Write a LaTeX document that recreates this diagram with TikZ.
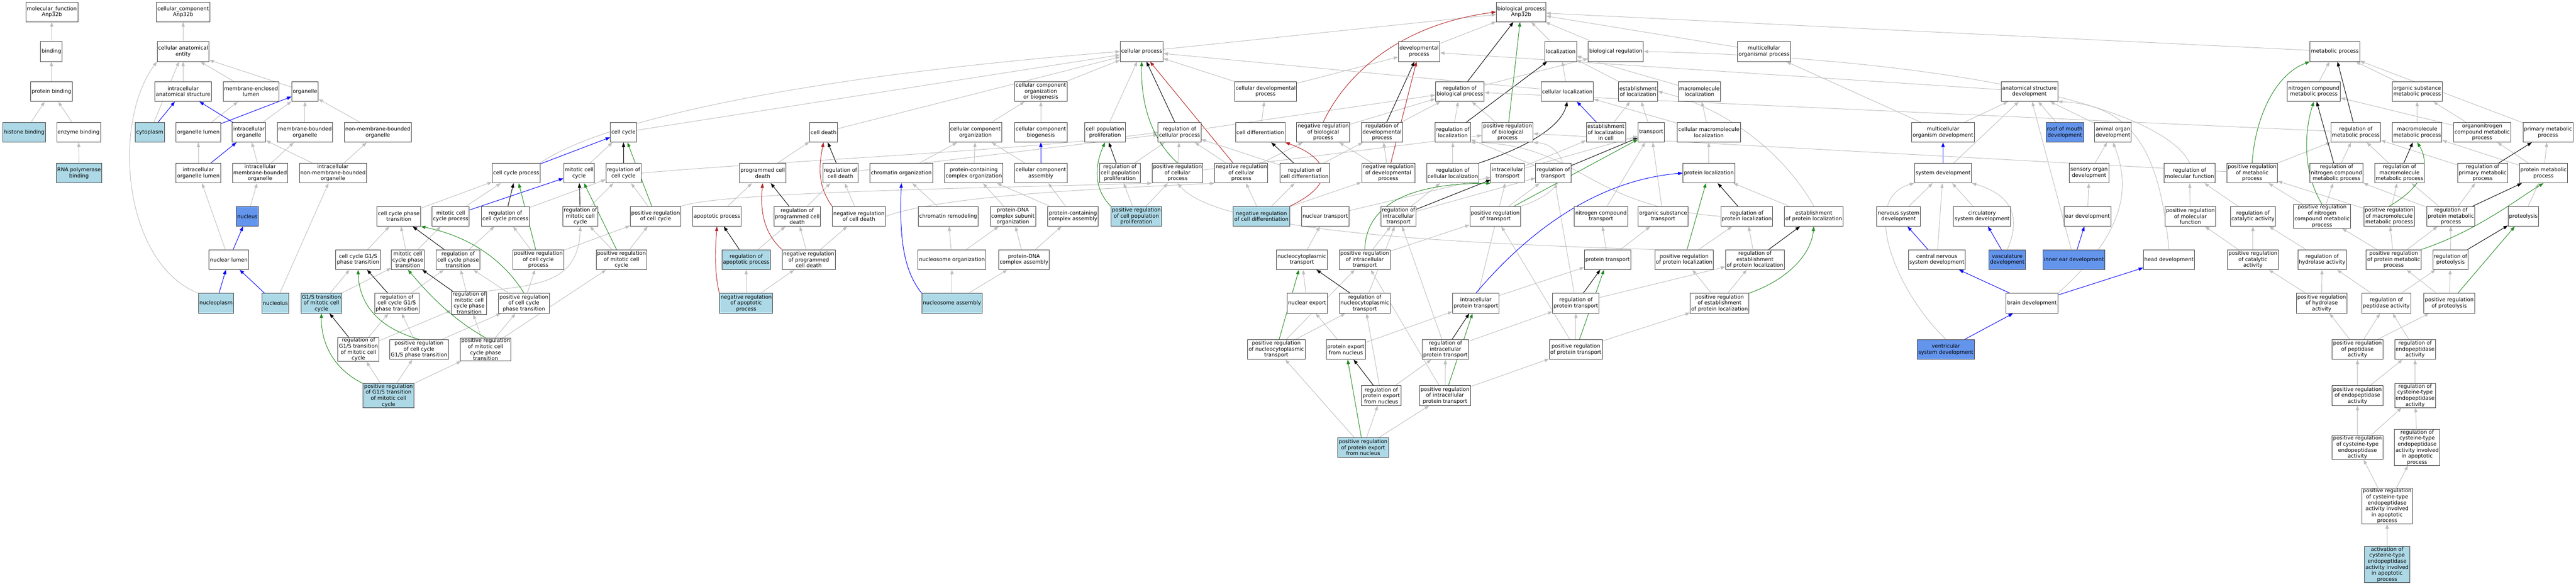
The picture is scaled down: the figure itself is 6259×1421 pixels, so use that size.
\documentclass[tikz,border=0pt]{standalone}
\usepackage{fontspec}
\setmainfont{DejaVu Sans}
\usetikzlibrary{arrows.meta,backgrounds}
\definecolor{edgegray}{RGB}{190,190,190}
\definecolor{lblue}{RGB}{173,216,230}
\definecolor{cblue}{RGB}{100,149,237}
\definecolor{posgreen}{RGB}{34,139,34}
\definecolor{negred}{RGB}{178,34,34}
\begin{document}
\begin{tikzpicture}[x=1pt,y=1pt,
  term/.style={draw=black!75, line width=1.2pt, fill=white, inner xsep=2.5pt, inner ysep=1pt, minimum height=48pt, align=center, font=\fontsize{12.7}{14.5}\selectfont},
  annot/.style={term, fill=lblue},
  focus/.style={term, fill=cblue},
  isa/.style={draw=edgegray, line width=1.2pt, -{Triangle[length=11pt,width=8pt]}},
  partof/.style={isa, draw=blue},
  regs/.style={isa, draw=black},
  posreg/.style={isa, draw=posgreen},
  negreg/.style={isa, draw=negred}]
\useasboundingbox (0,0) rectangle (6259,-1421);

% row 0 and 1
\node[term] (mf) at (126,-29) {molecular\_function\\Anp32b};
\node[term] (ccomp) at (445,-29) {cellular\_component\\Anp32b};
\node[term] (bp) at (3696,-29) {biological\_process\\Anp32b};
\node[term] (bind) at (125,-125) {binding};
\node[term] (cae) at (445,-125) {cellular anatomical\\entity};
\node[term] (cellproc) at (2774,-125) {cellular process};
\node[term] (devproc) at (3448,-125) {developmental\\process};
\node[term] (loc) at (3792,-125) {localization};
\node[term] (bioreg) at (3926,-125) {biological regulation};
\node[term] (mop) at (4286,-125) {multicellular\\organismal process};
\node[term] (metab) at (5673,-125) {metabolic process};

% row 2
\node[term] (pbind) at (125,-222) {protein binding};
\node[term] (ias) at (445,-222) {intracellular\\anatomical structure};
\node[term] (mel) at (610,-222) {membrane-enclosed\\lumen};
\node[term] (org) at (741,-222) {organelle};
\node[term] (ccob) at (2529,-222) {cellular component\\organization\\or biogenesis};
\node[term] (celldevp) at (3075,-222) {cellular developmental\\process};
\node[term] (regbp) at (3547,-222) {regulation of\\biological process};
\node[term] (cellloc) at (3808,-222) {cellular localization};
\node[term] (estloc) at (3980,-222) {establishment\\of localization};
\node[term] (mmloc) at (4129,-222) {macromolecule\\localization};
\node[term] (asd) at (4931,-222) {anatomical structure\\development};
\node[term] (ncmp) at (5622,-222) {nitrogen compound\\metabolic process};
\node[term] (osmp) at (5873,-222) {organic substance\\metabolic process};

% row 3
\node[annot] (hist) at (59,-321) {histone binding};
\node[term] (enz) at (191,-321) {enzyme binding};
\node[annot] (cyto) at (364,-321) {cytoplasm};
\node[term] (orglum) at (482,-321) {organelle lumen};
\node[term] (icorg) at (605,-321) {intracellular\\organelle};
\node[term] (mbo) at (741,-321) {membrane-bounded\\organelle};
\node[term] (nmbo) at (918,-321) {non-membrane-bounded\\organelle};
\node[term] (ccyc) at (1515,-321) {cell cycle};
\node[term] (cdeath) at (2001,-321) {cell death};
\node[term] (ccorg) at (2370,-321) {cellular component\\organization};
\node[term] (ccbio) at (2529,-321) {cellular component\\biogenesis};
\node[term] (cpp) at (2685,-321) {cell population\\proliferation};
\node[term] (regcp) at (2866,-321) {regulation of\\cellular process};
\node[term] (cdiff) at (3062,-321) {cell differentiation};
\node[term] (nrbp) at (3215,-321) {negative regulation\\of biological\\process};
\node[term] (regdev) at (3358,-321) {regulation of\\developmental\\process};
\node[term] (regloc) at (3530,-321) {regulation of\\localization};
\node[term] (prbp) at (3663,-321) {positive regulation\\of biological\\process};
\node[term] (estlocc) at (3902,-321) {establishment\\of localization\\in cell};
\node[term] (transp) at (4012,-321) {transport};
\node[term] (cmmloc) at (4152,-321) {cellular macromolecule\\localization};
\node[term] (mod) at (4721,-321) {multicellular\\organism development};
\node[focus] (roof) at (5017,-321) {roof of mouth\\development};
\node[term] (aod) at (5134,-321) {animal organ\\development};
\node[term] (regmp) at (5724,-321) {regulation of\\metabolic process};
\node[term] (mmmp) at (5873,-321) {macromolecule\\metabolic process};
\node[term] (onmp) at (6031,-321) {organonitrogen\\compound metabolic\\process};
\node[term] (pmp) at (6191,-321) {primary metabolic\\process};

% row 4
\node[annot] (rnap) at (192,-420) {RNA polymerase\\binding};
\node[term] (icol) at (482,-420) {intracellular\\organelle lumen};
\node[term] (imbo) at (632,-420) {intracellular\\membrane-bounded\\organelle};
\node[term] (inmbo) at (809,-420) {intracellular\\non-membrane-bounded\\organelle};
\node[term] (ccp) at (1254,-420) {cell cycle process};
\node[term] (mcc) at (1407,-420) {mitotic cell\\cycle};
\node[term] (regcc) at (1515,-420) {regulation of\\cell cycle};
\node[term] (pcd) at (1853,-420) {programmed cell\\death};
\node[term] (regcd) at (2042,-420) {regulation of\\cell death};
\node[term] (chrorg) at (2190,-420) {chromatin organization};
\node[term] (pcco) at (2366,-420) {protein-containing\\complex organization};
\node[term] (cca) at (2529,-420) {cellular component\\assembly};
\node[term] (regcpp) at (2721,-420) {regulation of\\cell population\\proliferation};
\node[term] (prcp) at (2861,-420) {positive regulation\\of cellular\\process};
\node[term] (nrcp) at (3016,-420) {negative regulation\\of cellular\\process};
\node[term] (regcdiff) at (3170,-420) {regulation of\\cell differentiation};
\node[term] (nrdev) at (3373,-420) {negative regulation\\of developmental\\process};
\node[term] (regcloc) at (3530,-420) {regulation of\\cellular localization};
\node[term] (ictr) at (3663,-420) {intracellular\\transport};
\node[term] (regtr) at (3774,-420) {regulation of\\transport};
\node[term] (ploc) at (4152,-420) {protein localization};
\node[term] (sysdev) at (4721,-420) {system development};
\node[term] (sod) at (5076,-420) {sensory organ\\development};
\node[term] (regmf) at (5320,-420) {regulation of\\molecular function};
\node[term] (prmp) at (5472,-420) {positive regulation\\of metabolic\\process};
\node[term] (regncmp) at (5677,-420) {regulation of\\nitrogen compound\\metabolic process};
\node[term] (regmmmp) at (5830,-420) {regulation of\\macromolecule\\metabolic process};
\node[term] (regpmp) at (6032,-420) {regulation of\\primary metabolic\\process};
\node[term] (protmp) at (6180,-420) {protein metabolic\\process};

% row 5
\node[focus] (nucleus) at (601,-525) {nucleus};
\node[term] (ccpt) at (969,-525) {cell cycle phase\\transition};
\node[term] (mccp) at (1095,-525) {mitotic cell\\cycle process};
\node[term] (regccp) at (1228,-525) {regulation of\\cell cycle process};
\node[term] (regmcc) at (1410,-525) {regulation of\\mitotic cell\\cycle};
\node[term] (prcc) at (1593,-525) {positive regulation\\of cell cycle};
\node[term] (apop) at (1742,-525) {apoptotic process};
\node[term] (regpcd) at (1937,-525) {regulation of\\programmed cell\\death};
\node[term] (nrcd) at (2087,-525) {negative regulation\\of cell death};
\node[term] (chrrem) at (2304,-525) {chromatin remodeling};
\node[term] (pdnaorg) at (2461,-525) {protein-DNA\\complex subunit\\organization};
\node[term] (pcca) at (2607,-525) {protein-containing\\complex assembly};
\node[annot] (prcpp) at (2761,-525) {positive regulation\\of cell population\\proliferation};
\node[annot] (nrcdiff) at (3065,-525) {negative regulation\\of cell differentiation};
\node[term] (nuctr) at (3220,-525) {nuclear transport};
\node[term] (regictr) at (3398,-525) {regulation of\\intracellular\\transport};
\node[term] (prtr) at (3633,-525) {positive regulation\\of transport};
\node[term] (nctr) at (3890,-525) {nitrogen compound\\transport};
\node[term] (ostr) at (4041,-525) {organic substance\\transport};
\node[term] (regploc) at (4244,-525) {regulation of\\protein localization};
\node[term] (estploc) at (4407,-525) {establishment\\of protein localization};
\node[term] (nsd) at (4613,-525) {nervous system\\development};
\node[term] (csd) at (4816,-525) {circulatory\\system development};
\node[term] (eard) at (5072,-525) {ear development};
\node[term] (prmf) at (5322,-525) {positive regulation\\of molecular\\function};
\node[term] (regcat) at (5474,-525) {regulation of\\catalytic activity};
\node[term] (prncmp) at (5642,-525) {positive regulation\\of nitrogen\\compound metabolic\\process};
\node[term] (prmmmp) at (5805,-525) {positive regulation\\of macromolecule\\metabolic process};
\node[term] (regprotmp) at (5955,-525) {regulation of\\protein metabolic\\process};
\node[term] (proteol) at (6131,-525) {proteolysis};

% row 6
\node[term] (nuclum) at (556,-630) {nuclear lumen};
\node[term] (ccg1s) at (870,-630) {cell cycle G1/S\\phase transition};
\node[term] (mccpt) at (991,-630) {mitotic cell\\cycle phase\\transition};
\node[term] (regccpt) at (1113,-630) {regulation of\\cell cycle phase\\transition};
\node[term] (prccp) at (1308,-630) {positive regulation\\of cell cycle\\process};
\node[term] (prmcc) at (1510,-630) {positive regulation\\of mitotic cell\\cycle};
\node[annot] (regapop) at (1813,-630) {regulation of\\apoptotic process};
\node[term] (nrpcd) at (1965,-630) {negative regulation\\of programmed\\cell death};
\node[term] (nucorg) at (2313,-630) {nucleosome organization};
\node[term] (pdnaasm) at (2488,-630) {protein-DNA\\complex assembly};
\node[term] (ncytr) at (3163,-630) {nucleocytoplasmic\\transport};
\node[term] (prictr) at (3316,-630) {positive regulation\\of intracellular\\transport};
\node[term] (prottr) at (3906,-630) {protein transport};
\node[term] (prploc) at (4092,-630) {positive regulation\\of protein localization};
\node[term] (regestploc) at (4264,-630) {regulation of\\establishment\\of protein localization};
\node[term] (cnsd) at (4706,-630) {central nervous\\system development};
\node[focus] (vasc) at (4877,-630) {vasculature\\development};
\node[focus] (ied) at (5039,-630) {inner ear development};
\node[term] (headd) at (5270,-630) {head development};
\node[term] (prcat) at (5474,-630) {positive regulation\\of catalytic\\activity};
\node[term] (reghyd) at (5642,-630) {regulation of\\hydrolase activity};
\node[term] (prprotmp) at (5816,-630) {positive regulation\\of protein metabolic\\process};
\node[term] (regproteol) at (5954,-630) {regulation of\\proteolysis};

% row 7
\node[annot] (nucpl) at (525,-736) {nucleoplasm};
\node[annot] (nucl) at (669,-736) {nucleolus};
\node[annot] (g1s) at (781,-736) {G1/S transition\\of mitotic cell\\cycle};
\node[term] (regccg1s) at (964,-736) {regulation of\\cell cycle G1/S\\phase transition};
\node[term] (regmccpt) at (1140,-735) {regulation of\\mitotic cell\\cycle phase\\transition};
\node[term] (prccpt) at (1273,-736) {positive regulation\\of cell cycle\\phase transition};
\node[annot] (nrapop) at (1813,-736) {negative regulation\\of apoptotic\\process};
\node[annot] (nucasm) at (2313,-736) {nucleosome assembly};
\node[term] (nucexp) at (3176,-736) {nuclear export};
\node[term] (regncytr) at (3316,-736) {regulation of\\nucleocytoplasmic\\transport};
\node[term] (icptr) at (3586,-736) {intracellular\\protein transport};
\node[term] (regprottr) at (3829,-736) {regulation of\\protein transport};
\node[term] (prestploc) at (4178,-736) {positive regulation\\of establishment\\of protein localization};
\node[term] (braind) at (4937,-736) {brain development};
\node[term] (prhyd) at (5641,-736) {positive regulation\\of hydrolase\\activity};
\node[term] (regpep) at (5798,-736) {regulation of\\peptidase activity};
\node[term] (prproteol) at (5951,-736) {positive regulation\\of proteolysis};

% rows 8 to 12
\node[term] (regg1s) at (871,-848) {regulation of\\G1/S transition\\of mitotic cell\\cycle};
\node[term] (prccg1s) at (1018,-848) {positive regulation\\of cell cycle\\G1/S phase transition};
\node[term] (prmccpt) at (1180,-848) {positive regulation\\of mitotic cell\\cycle phase\\transition};
\node[term] (prncytr) at (3101,-848) {positive regulation\\of nucleocytoplasmic\\transport};
\node[term] (pexp) at (3270,-848) {protein export\\from nucleus};
\node[term] (regicptr) at (3512,-848) {regulation of\\intracellular\\protein transport};
\node[term] (prprottr) at (3829,-848) {positive regulation\\of protein transport};
\node[focus] (ventd) at (4728,-848) {ventricular\\system development};
\node[term] (prpep) at (5728,-848) {positive regulation\\of peptidase\\activity};
\node[term] (regendo) at (5868,-848) {regulation of\\endopeptidase\\activity};
\node[annot] (prg1s) at (944,-960) {positive regulation\\of G1/S transition\\of mitotic cell\\cycle};
\node[term] (regpexp) at (3356,-960) {regulation of\\protein export\\from nucleus};
\node[term] (pricptr) at (3511,-960) {positive regulation\\of intracellular\\protein transport};
\node[term] (prendo) at (5728,-960) {positive regulation\\of endopeptidase\\activity};
\node[term] (regcys) at (5868,-960) {regulation of\\cysteine-type\\endopeptidase\\activity};
\node[annot] (prpexp) at (3312,-1086) {positive regulation\\of protein export\\from nucleus};
\node[term] (prcys) at (5728,-1086) {positive regulation\\of cysteine-type\\endopeptidase\\activity};
\node[term] (regcysap) at (5873,-1086) {regulation of\\cysteine-type\\endopeptidase\\activity involved\\in apoptotic\\process};
\node[term] (prcysap) at (5800,-1228) {positive regulation\\of cysteine-type\\endopeptidase\\activity involved\\in apoptotic\\process};
\node[annot] (actcys) at (5800,-1370) {activation of\\cysteine-type\\endopeptidase\\activity involved\\in apoptotic\\process};

\begin{pgfonlayer}{background}
% molecular function and cellular component
\draw[isa] (bind) -- (mf);
\draw[isa] (pbind) -- (bind);
\draw[isa] (hist) -- (pbind);
\draw[isa] (enz) -- (pbind);
\draw[isa] (rnap) -- (enz);
\draw[isa] (cae) -- (ccomp);
\draw[isa] (ias) -- (cae);
\draw[isa] (mel) -- (cae);
\draw[isa] (org) -- (cae);
\draw[isa] (cyto) -- (cae);
\draw[isa] (nucpl.north west) .. controls (300,-640) and (270,-300) .. (cae.south west);
\draw[isa] (orglum) -- (mel);
\draw[isa] (icorg) -- (org);
\draw[isa] (mbo) -- (org);
\draw[isa] (nmbo) -- (org);
\draw[isa] (icol) -- (orglum);
\draw[isa] (imbo) -- (icorg);
\draw[isa] (imbo) -- (mbo);
\draw[isa] (inmbo) -- (icorg);
\draw[isa] (inmbo) -- (nmbo);
\draw[isa] (nucleus) -- (imbo);
\draw[isa] (nuclum) -- (icol);
\draw[isa] (nucl) -- (inmbo);
\draw[partof] (cyto) -- (ias);
\draw[partof] (orglum) -- (org);
\draw[partof] (icorg) -- (ias);
\draw[partof] (icol) -- (icorg);
\draw[partof] (nuclum) -- (nucleus);
\draw[partof] (nucpl) -- (nuclum);
\draw[partof] (nucl) -- (nuclum);
% cell cycle
\draw[isa] (ccpt) -- (ccp);
\draw[isa] (ccg1s) -- (ccpt);
\draw[isa] (mccpt) -- (ccpt);
\draw[isa] (mccpt) -- (mccp);
\draw[isa] (g1s) -- (ccg1s);
\draw[isa] (g1s) -- (mccpt);
\draw[isa] (regccg1s) -- (regccpt);
\draw[isa] (regg1s) -- (regccg1s);
\draw[isa] (regg1s) -- (regmccpt);
\draw[isa] (prccg1s) -- (regccg1s);
\draw[isa] (prccg1s) -- (prccpt);
\draw[isa] (prg1s) -- (regg1s);
\draw[isa] (prg1s) -- (prccg1s);
\draw[isa] (prg1s) -- (prmccpt);
\draw[isa] (regmccpt) -- (regccpt);
\draw[isa] (regmccpt.north east) .. controls (1300,-690) and (1405,-690) .. (regmcc.south);
\draw[isa] (prccpt) -- (regccpt);
\draw[isa] (prccpt) -- (prccp);
\draw[isa] (prmccpt) -- (regmccpt);
\draw[isa] (prmccpt) -- (prccpt);
\draw[isa] (prmccpt) -- (prmcc);
\draw[isa] (ccyc) -- (cellproc);
\draw[isa] (ccp.north east) .. controls (1450,-300) and (1900,-190) .. (cellproc.west);
\draw[isa] (mcc) -- (ccyc);
\draw[isa] (mccp) -- (ccp);
\draw[isa] (regcc.east) .. controls (1900,-390) and (2500,-365) .. (regcp.west);
\draw[isa] (prcc) -- (regcc);
\draw[isa] (prcc.north east) .. controls (1750,-465) and (2450,-455) .. (prcp.south west);
\draw[isa] (regccp) -- (regcc);
\draw[isa] (prccp) -- (regccp);
\draw[isa] (prccp) -- (prcc);
\draw[isa] (regmcc) -- (regcc);
\draw[isa] (prmcc) -- (regmcc);
\draw[isa] (prmcc) -- (prcc);
\draw[isa] (regccpt) -- (regccp);
\draw[partof] (ccp) -- (ccyc);
\draw[partof] (mccp) -- (mcc);
\draw[regs] (regcc) -- (ccyc);
\draw[regs] (regccp) -- (ccp);
\draw[regs] (regmcc) -- (mcc);
\draw[regs] (regccpt) -- (ccpt);
\draw[regs] (regccg1s) -- (ccg1s);
\draw[regs] (regg1s) -- (g1s);
\draw[regs] (regmccpt) -- (mccpt);
\draw[posreg] (prcc) -- (ccyc);
\draw[posreg] (prccp) -- (ccp);
\draw[posreg] (prmcc) -- (mcc);
\draw[posreg] (prccpt.north) .. controls (1230,-640) and (1150,-575) .. (ccpt.south east);
\draw[posreg] (prccg1s.north) .. controls (900,-790) and (872,-720) .. (ccg1s.south);
\draw[posreg] (prg1s.north west) .. controls (800,-890) and (780,-820) .. (g1s.south);
\draw[posreg] (prmccpt.north) .. controls (1090,-770) and (1030,-700) .. (mccpt.south);
% cell death
\draw[isa] (cdeath) -- (cellproc);
\draw[isa] (pcd) -- (cdeath);
\draw[isa] (regcd) -- (regcp);
\draw[isa] (nrcd) -- (regcd);
\draw[isa] (nrcd.east) .. controls (2300,-470) and (2750,-455) .. (nrcp.south west);
\draw[isa] (apop) -- (pcd);
\draw[isa] (regpcd) -- (regcd);
\draw[isa] (nrpcd) -- (regpcd);
\draw[isa] (nrpcd) -- (nrcd);
\draw[isa] (regapop) -- (regpcd);
\draw[isa] (nrapop) -- (regapop);
\draw[isa] (nrapop) -- (nrpcd);
\draw[regs] (regcd) -- (cdeath);
\draw[regs] (regpcd) -- (pcd);
\draw[regs] (regapop) -- (apop);
\draw[negreg] (nrcd.north west) .. controls (1985,-450) and (1990,-400) .. (cdeath.south);
\draw[negreg] (nrpcd.north west) .. controls (1850,-560) and (1848,-500) .. (pcd.south);
\draw[negreg] (nrapop.north west) .. controls (1735,-660) and (1738,-600) .. (apop.south);
% cellular component organization
\draw[isa] (ccob) -- (cellproc);
\draw[isa] (ccorg) -- (ccob);
\draw[isa] (ccbio) -- (ccob);
\draw[isa] (chrorg) -- (ccorg);
\draw[isa] (pcco) -- (ccorg);
\draw[isa] (cca) -- (ccorg);
\draw[isa] (chrrem) -- (chrorg);
\draw[isa] (pdnaorg) -- (pcco);
\draw[isa] (pcca) -- (pcco);
\draw[isa] (pcca) -- (cca);
\draw[isa] (nucorg) -- (chrrem);
\draw[isa] (nucorg) -- (pdnaorg);
\draw[isa] (pdnaasm) -- (pdnaorg);
\draw[isa] (pdnaasm) -- (pcca);
\draw[isa] (nucasm) -- (nucorg);
\draw[isa] (nucasm) -- (pdnaasm);
\draw[partof] (cca) -- (ccbio);
\draw[partof] (nucasm.north west) .. controls (2190,-650) and (2186,-560) .. (chrorg.south);
% cell population proliferation
\draw[isa] (cpp) -- (cellproc);
\draw[isa] (regcpp) -- (regcp);
\draw[isa] (prcp) -- (regcp);
\draw[isa] (nrcp) -- (regcp);
\draw[isa] (prcpp) -- (regcpp);
\draw[isa] (prcpp) -- (prcp);
\draw[regs] (regcpp) -- (cpp);
\draw[regs] (regcp) -- (cellproc);
\draw[posreg] (prcpp.north west) .. controls (2650,-450) and (2665,-390) .. (cpp.south);
\draw[posreg] (prcp.north) .. controls (2790,-330) and (2772,-240) .. (cellproc.south);
\draw[negreg] (nrcp) -- (cellproc);
% development and regulation
\draw[isa] (cellproc) -- (bp);
\draw[isa] (celldevp) -- (cellproc);
\draw[isa] (celldevp) -- (devproc);
\draw[isa] (cdiff) -- (celldevp);
\draw[isa] (regcdiff) -- (regcp);
\draw[isa] (regcdiff) -- (regdev);
\draw[isa] (nrcdiff) -- (nrcp);
\draw[isa] (nrcdiff) -- (regcdiff);
\draw[isa] (nrcdiff) -- (nrdev);
\draw[isa] (regcp) -- (regbp);
\draw[isa] (prcp) -- (prbp);
\draw[isa] (nrcp) -- (nrbp);
\draw[isa] (nrdev) -- (nrbp);
\draw[isa] (nrdev) -- (regdev);
\draw[isa] (regdev) -- (regbp);
\draw[isa] (nrbp) -- (regbp);
\draw[isa] (prbp) -- (regbp);
\draw[isa] (regloc) -- (regbp);
\draw[isa] (regbp) -- (bioreg);
\draw[isa] (devproc) -- (bp);
\draw[isa] (loc) -- (bp);
\draw[isa] (bioreg) -- (bp);
\draw[isa] (mop) -- (bp);
\draw[isa] (metab) -- (bp);
\draw[isa] (asd) -- (devproc);
\draw[isa] (mod) -- (mop);
\draw[isa] (mod) -- (asd);
\draw[isa] (sysdev) -- (asd);
\draw[isa] (roof) -- (asd);
\draw[isa] (aod) -- (asd);
\draw[isa] (headd.north) .. controls (5250,-400) and (5200,-255) .. (asd.south east);
\draw[isa] (ied) -- (asd);
\draw[isa] (sod) -- (aod);
\draw[isa] (braind.north east) .. controls (5170,-560) and (5175,-450) .. (aod.south);
\draw[isa] (eard) -- (sod);
\draw[isa] (nsd) -- (sysdev);
\draw[isa] (csd) -- (sysdev);
\draw[isa] (cnsd) -- (sysdev);
\draw[isa] (vasc.north) .. controls (4915,-520) and (4880,-470) .. (sysdev.south east);
\draw[isa] (ventd.north) .. controls (4600,-700) and (4520,-480) .. (sysdev.south west);
\draw[partof] (sysdev) -- (mod);
\draw[partof] (ied) -- (eard);
\draw[partof] (cnsd) -- (nsd);
\draw[partof] (vasc) -- (csd);
\draw[partof] (braind) -- (cnsd);
\draw[partof] (ventd) -- (braind);
\draw[partof] (braind) -- (headd);
\draw[regs] (regbp) -- (bp);
\draw[regs] (regdev) -- (devproc);
\draw[regs] (regcdiff) -- (cdiff);
\draw[regs] (regloc) -- (loc);
\draw[posreg] (prbp) -- (bp);
\draw[negreg] (nrbp.north) .. controls (3270,-180) and (3400,-60) .. (bp.west);
\draw[negreg] (nrdev) -- (devproc);
\draw[negreg] (nrcdiff.north east) .. controls (3260,-440) and (3220,-380) .. (cdiff.south east);
% localization and transport
\draw[isa] (cellloc) -- (loc);
\draw[isa] (estloc) -- (loc);
\draw[isa] (mmloc) -- (loc);
\draw[isa] (cellloc) -- (cellproc);
\draw[isa] (estlocc) -- (estloc);
\draw[isa] (transp) -- (estloc);
\draw[isa] (cmmloc) -- (cellloc);
\draw[isa] (cmmloc) -- (mmloc);
\draw[isa] (regcloc) -- (regloc);
\draw[isa] (regtr) -- (regloc);
\draw[isa] (ictr) -- (estlocc);
\draw[isa] (ictr) -- (transp);
\draw[isa] (nuctr) -- (ictr);
\draw[isa] (regictr) -- (regtr);
\draw[isa] (regictr) -- (regcloc);
\draw[isa] (prtr) -- (regtr);
\draw[isa] (prtr.north east) .. controls (3850,-450) and (3800,-350) .. (prbp.south east);
\draw[isa] (nctr) -- (transp);
\draw[isa] (ostr) -- (transp);
\draw[isa] (ploc) -- (cmmloc);
\draw[isa] (estploc) -- (ploc);
\draw[isa] (estploc.north) .. controls (4340,-380) and (4200,-262) .. (estloc.east);
\draw[isa] (regploc.west) .. controls (3850,-500) and (3840,-350) .. (regloc.south east);
\draw[isa] (ncytr) -- (nuctr);
\draw[isa] (prictr) -- (regictr);
\draw[isa] (prictr) -- (prtr);
\draw[isa] (prottr) -- (nctr);
\draw[isa] (prottr) -- (ostr);
\draw[isa] (prploc) -- (regploc);
\draw[isa] (prploc.north west) .. controls (3500,-590) and (2960,-560) .. (prcp.south);
\draw[isa] (regestploc) -- (regploc);
\draw[isa] (prestploc) -- (regestploc);
\draw[isa] (prestploc) -- (prploc);
\draw[isa] (nucexp) -- (ncytr);
\draw[isa] (regncytr) -- (regictr);
\draw[isa] (icptr) -- (ictr);
\draw[isa] (icptr) -- (prottr);
\draw[isa] (regprottr) -- (regtr);
\draw[isa] (regprottr) -- (regestploc);
\draw[isa] (prncytr) -- (regncytr);
\draw[isa] (prncytr) -- (prictr);
\draw[isa] (pexp) -- (nucexp);
\draw[isa] (pexp) -- (icptr);
\draw[isa] (regicptr) -- (regictr);
\draw[isa] (regicptr) -- (regprottr);
\draw[isa] (prprottr) -- (prtr);
\draw[isa] (prprottr) -- (regprottr);
\draw[isa] (prprottr) -- (prestploc);
\draw[isa] (regpexp) -- (regncytr);
\draw[isa] (regpexp) -- (regicptr);
\draw[isa] (pricptr) -- (prictr);
\draw[isa] (pricptr) -- (regicptr);
\draw[isa] (pricptr) -- (prprottr);
\draw[isa] (prpexp) -- (regpexp);
\draw[isa] (prpexp) -- (pricptr);
\draw[isa] (prpexp) -- (prncytr);
\draw[partof] (estlocc) -- (cellloc);
\draw[partof] (icptr.north) .. controls (3680,-600) and (3850,-440) .. (ploc.west);
\draw[regs] (regcloc.north east) .. controls (3730,-350) and (3795,-300) .. (cellloc.south);
\draw[regs] (regtr) -- (transp);
\draw[regs] (regictr) -- (ictr);
\draw[regs] (regploc) -- (ploc);
\draw[regs] (regestploc) -- (estploc);
\draw[regs] (regncytr) -- (ncytr);
\draw[regs] (regprottr) -- (prottr);
\draw[regs] (regicptr) -- (icptr);
\draw[regs] (regpexp) -- (pexp);
\draw[posreg] (prtr) -- (transp);
\draw[posreg] (prictr.north) .. controls (3320,-470) and (3480,-445) .. (ictr.south west);
\draw[posreg] (prploc) -- (ploc);
\draw[posreg] (prestploc.north east) .. controls (4340,-680) and (4400,-620) .. (estploc.south);
\draw[posreg] (prncytr) -- (ncytr);
\draw[posreg] (prprottr) -- (prottr);
\draw[posreg] (pricptr) -- (icptr);
\draw[posreg] (prpexp) -- (pexp);
% metabolism and molecular function
\draw[isa] (ncmp) -- (metab);
\draw[isa] (osmp) -- (metab);
\draw[isa] (pmp) -- (metab);
\draw[isa] (mmmp) -- (osmp);
\draw[isa] (onmp) -- (ncmp);
\draw[isa] (onmp) -- (osmp);
\draw[isa] (regmp) -- (regbp);
\draw[isa] (regncmp) -- (regmp);
\draw[isa] (prmp) -- (regmp);
\draw[isa] (regmmmp) -- (regmp);
\draw[isa] (regpmp) -- (regmp);
\draw[isa] (protmp) -- (mmmp);
\draw[isa] (protmp) -- (onmp);
\draw[isa] (protmp) -- (pmp);
\draw[isa] (prmp) -- (prbp);
\draw[isa] (regmf.north) .. controls (5250,-250) and (4700,-140) .. (bioreg.east);
\draw[isa] (prmf) -- (regmf);
\draw[isa] (regcat) -- (regmf);
\draw[isa] (prncmp) -- (prmp);
\draw[isa] (prncmp) -- (regncmp);
\draw[isa] (prmmmp) -- (regmmmp);
\draw[isa] (prmmmp) -- (prmp);
\draw[isa] (regprotmp) -- (regpmp);
\draw[isa] (regprotmp) -- (regmmmp);
\draw[isa] (regprotmp) -- (regncmp);
\draw[isa] (proteol) -- (protmp);
\draw[isa] (prcat) -- (prmf);
\draw[isa] (prcat) -- (regcat);
\draw[isa] (reghyd) -- (regcat);
\draw[isa] (prprotmp) -- (prncmp);
\draw[isa] (prprotmp) -- (prmmmp);
\draw[isa] (prprotmp) -- (regprotmp);
\draw[isa] (regproteol) -- (regprotmp);
\draw[isa] (prhyd) -- (prcat);
\draw[isa] (prhyd) -- (reghyd);
\draw[isa] (regpep) -- (reghyd);
\draw[isa] (regpep) -- (regproteol);
\draw[isa] (prproteol) -- (prprotmp);
\draw[isa] (prproteol) -- (regproteol);
\draw[isa] (prpep) -- (prhyd);
\draw[isa] (prpep) -- (regpep);
\draw[isa] (prpep) -- (prproteol);
\draw[isa] (regendo) -- (regpep);
\draw[isa] (prendo) -- (prpep);
\draw[isa] (prendo) -- (regendo);
\draw[isa] (regcys) -- (regendo);
\draw[isa] (prcys) -- (prendo);
\draw[isa] (prcys) -- (regcys);
\draw[isa] (regcysap) -- (regcys);
\draw[isa] (prcysap) -- (prcys);
\draw[isa] (prcysap) -- (regcysap);
\draw[isa] (actcys) -- (prcysap);
\draw[regs] (regmp) -- (metab);
\draw[regs] (regncmp) -- (ncmp);
\draw[regs] (regmmmp) -- (mmmp);
\draw[regs] (regpmp) -- (pmp);
\draw[regs] (regprotmp) -- (protmp);
\draw[regs] (regproteol) -- (proteol);
\draw[posreg] (prmp.north) .. controls (5480,-280) and (5530,-180) .. (metab.south west);
\draw[posreg] (prncmp.north) .. controls (5595,-420) and (5598,-320) .. (ncmp.south);
\draw[posreg] (prmmmp.north) .. controls (5910,-440) and (5895,-380) .. (mmmp.south);
\draw[posreg] (prprotmp.north east) .. controls (6020,-560) and (6120,-480) .. (protmp.south);
\draw[posreg] (prproteol) -- (proteol);
\end{pgfonlayer}
\end{tikzpicture}
\end{document}
